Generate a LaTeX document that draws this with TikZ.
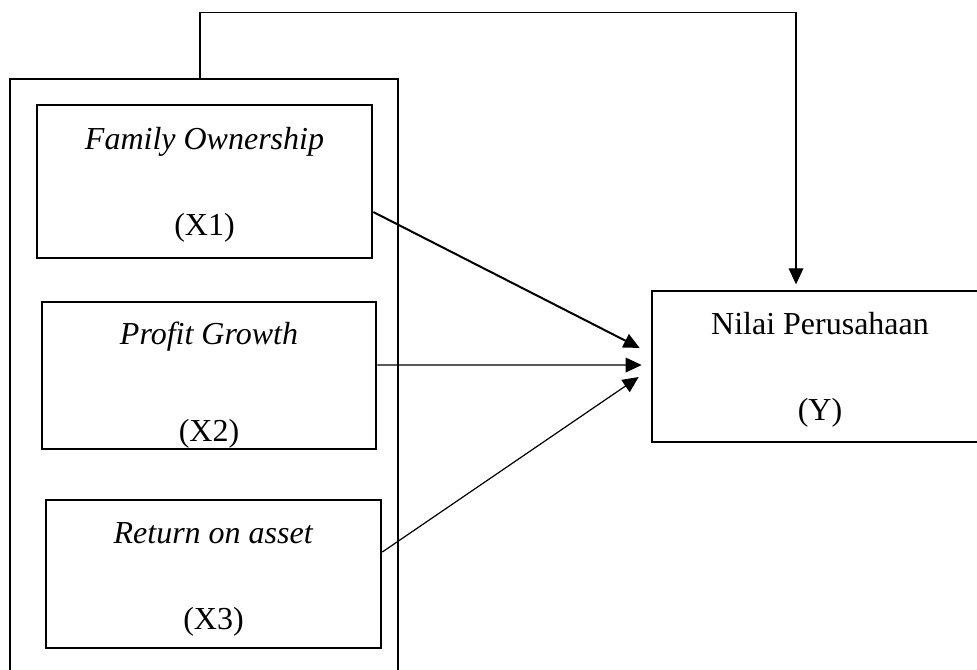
\documentclass[tikz,border=0pt]{standalone}
\usepackage{fontspec}
\setmainfont{Liberation Serif}
\usetikzlibrary{arrows.meta}
\newcommand{\atas}{\rule{0pt}{22pt}}
\begin{document}
\begin{tikzpicture}[x=0.75pt,y=-0.75pt,
	varbox/.style={draw,line width=2pt,align=center,inner sep=0pt,font=\fontsize{24}{28.8}\selectfont},
	panah/.style={-{Triangle[length=12pt,width=11pt]}}]
	\clip (0,0) rectangle (977,670);
	\node[draw,line width=1.2pt,minimum width=291pt,minimum height=458.25pt] (grup) at (204,384.5) {};
	\node[varbox,minimum width=251.25pt,minimum height=114.75pt] (x1) at (204.5,181.5) {\atas\textit{Family Ownership}\\[35.7pt](X1)};
	\node[varbox,minimum width=250.5pt,minimum height=110.25pt] (x2) at (209,375.5) {\rule{0pt}{31.5pt}\textit{Profit Growth}\\[43.95pt](X2)};
	\node[varbox,minimum width=251.25pt,minimum height=111pt] (x3) at (213.5,574) {\rule{0pt}{24pt}\textit{Return on asset}\\[35.7pt](X3)};
	\node[varbox,minimum width=252pt,minimum height=113.25pt] (y) at (820,366.5) {\atas Nilai Perusahaan\\[35.7pt](Y)};
	\draw[panah,line width=1.5pt] ([yshift=-22.9pt]x1.east) -- ([xshift=-8.25pt,yshift=13.9pt]y.west);
	\draw[panah,line width=0.9pt] ([yshift=7.9pt]x2.east) -- ([xshift=-6.75pt,yshift=1.1pt]y.west);
	\draw[panah,line width=0.9pt] ([yshift=16.5pt]x3.east) -- ([xshift=-9pt,yshift=-7.9pt]y.west);
	\draw[-{Triangle[length=12pt,width=11pt]},line width=0.9pt] ([xshift=-3pt]grup.north) -- ++(0,-66) -| ([xshift=-18pt,yshift=4pt]y.north);
\end{tikzpicture}
\end{document}
